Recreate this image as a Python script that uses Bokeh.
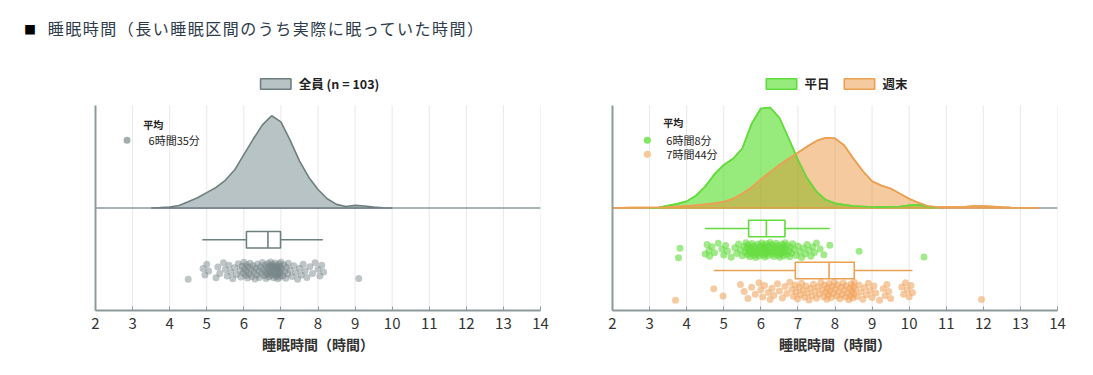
from bokeh.plotting import figure
from bokeh.models import (Range1d, FixedTicker, Legend, LegendItem, Label, Div)
from bokeh.layouts import column, row
from bokeh.embed import file_html
from bokeh.resources import INLINE

# ---------------- data ----------------
title_text = "睡眠時間（長い睡眠区間のうち実際に眠っていた時間）"
x_ticks = [2, 3, 4, 5, 6, 7, 8, 9, 10, 11, 12, 13, 14]
x_label = "睡眠時間（時間）"

# all participants
all_label = "全員 (n = 103)"
all_mean_text = "6時間35分"
all_dens_x = [3.5, 3.75, 4.0, 4.25, 4.5, 4.75, 5.0, 5.25, 5.5, 5.75, 6.0, 6.25, 6.5, 6.75,
              7.0, 7.25, 7.5, 7.75, 8.0, 8.25, 8.5, 8.75, 9.0, 9.25, 9.5, 9.75, 10.0]
all_dens_y = [0, 0.003, 0.01, 0.025, 0.06, 0.10, 0.15, 0.20, 0.27, 0.37, 0.52, 0.67, 0.81, 0.90,
              0.84, 0.66, 0.46, 0.30, 0.18, 0.09, 0.035, 0.015, 0.025, 0.02, 0.008, 0.002, 0]
all_box = [4.88, 6.07, 6.65, 6.99, 8.13]  # whisker low, Q1, median, Q3, whisker high
all_points = [4.50, 4.90, 4.95, 5.00, 5.05, 5.25, 5.30, 5.35, 5.45, 5.50, 5.55, 5.60, 5.65,
              5.70, 5.75, 5.80, 5.85, 5.90, 5.92, 5.95, 5.98, 6.00, 6.02, 6.05, 6.07,
              6.08, 6.10, 6.12, 6.15, 6.17, 6.20, 6.22, 6.25, 6.27, 6.30, 6.32, 6.35, 6.37,
              6.40, 6.42, 6.45, 6.47, 6.50, 6.52, 6.55, 6.57, 6.58, 6.60, 6.62, 6.63, 6.65,
              6.66, 6.68, 6.70, 6.71, 6.72, 6.74, 6.75, 6.77, 6.78, 6.80, 6.81, 6.82, 6.84,
              6.85, 6.87, 6.88, 6.90, 6.91, 6.92, 6.94, 6.95, 6.96, 6.97, 6.98, 6.99, 7.00,
              7.02, 7.05, 7.08, 7.10, 7.13, 7.15, 7.18, 7.20, 7.25, 7.30, 7.35, 7.40, 7.45,
              7.50, 7.55, 7.60, 7.65, 7.70, 7.78, 7.85, 7.92, 8.00, 8.05, 8.10, 8.15, 9.10]

# weekday / weekend
wd_label = "平日"
we_label = "週末"
wd_mean_text = "6時間8分"
we_mean_text = "7時間44分"
wd_dens_x = [3.0, 3.25, 3.5, 3.75, 4.0, 4.25, 4.5, 4.75, 5.0, 5.25, 5.5, 5.75, 6.0, 6.25,
             6.5, 6.75, 7.0, 7.25, 7.5, 7.75, 8.0, 8.25, 8.5, 8.75, 9.0, 9.25, 9.5, 9.75,
             10.0, 10.25, 10.5, 10.75]
wd_dens_y = [0, 0.005, 0.025, 0.04, 0.065, 0.12, 0.21, 0.33, 0.42, 0.48, 0.58, 0.82, 0.97, 0.98,
             0.88, 0.68, 0.47, 0.29, 0.16, 0.08, 0.045, 0.03, 0.02, 0.015, 0.01, 0.008, 0.01, 0.015,
             0.025, 0.03, 0.015, 0]
we_dens_x = [2.0, 2.25, 2.5, 2.75, 3.0, 3.25, 3.5, 3.75, 4.0, 4.25, 4.5, 4.75, 5.0, 5.25, 5.5,
             5.75, 6.0, 6.25, 6.5, 6.75, 7.0, 7.25, 7.5, 7.75, 8.0, 8.25, 8.5, 8.75, 9.0, 9.25,
             9.5, 9.75, 10.0, 10.25, 10.5, 10.75, 11.0, 11.25, 11.5, 11.75, 12.0, 12.25, 12.5,
             12.75, 13.0, 13.25, 13.5]
we_dens_y = [0, 0.002, 0.003, 0.004, 0.005, 0.007, 0.01, 0.015, 0.02, 0.025, 0.035, 0.045, 0.06,
             0.09, 0.14, 0.20, 0.28, 0.35, 0.42, 0.48, 0.54, 0.60, 0.655, 0.685, 0.68, 0.61, 0.48,
             0.36, 0.26, 0.22, 0.19, 0.14, 0.09, 0.05, 0.02, 0.01, 0.008, 0.01, 0.012, 0.018,
             0.02, 0.015, 0.008, 0.004, 0.002, 0.001, 0]
wd_box = [4.49, 5.67, 6.15, 6.65, 7.86]
we_box = [4.73, 6.93, 7.84, 8.52, 10.09]
wd_points = [3.78, 3.82, 4.50, 4.55, 4.60, 4.62, 4.68, 4.75, 4.85, 4.95, 5.00, 5.05, 5.10,
             5.20, 5.30, 5.35, 5.40, 5.45, 5.50, 5.55, 5.58, 5.60, 5.62, 5.64, 5.66,
             5.68, 5.70, 5.72, 5.74, 5.76, 5.78, 5.80, 5.82, 5.84, 5.86, 5.88, 5.90, 5.92,
             5.94, 5.96, 5.98, 6.00, 6.02, 6.04, 6.06, 6.08, 6.10, 6.11, 6.12, 6.14, 6.15,
             6.17, 6.19, 6.21, 6.23, 6.25, 6.27, 6.29, 6.31, 6.33, 6.35, 6.37, 6.39, 6.41,
             6.43, 6.45, 6.47, 6.49, 6.51, 6.53, 6.55, 6.57, 6.59, 6.61, 6.62, 6.64, 6.65,
             6.67, 6.70, 6.72, 6.75, 6.78, 6.80, 6.83, 6.86, 6.90, 6.95, 7.00, 7.05, 7.10,
             7.15, 7.20, 7.25, 7.30, 7.35, 7.40, 7.45, 7.50, 7.60, 7.70, 7.86, 8.65, 10.40]
we_points = [3.70, 4.73, 4.98, 5.45, 5.55, 5.65, 5.75, 5.85, 5.95, 6.00, 6.05, 6.10, 6.20,
             6.25, 6.30, 6.35, 6.45, 6.50, 6.58, 6.65, 6.70, 6.78, 6.84, 6.88, 6.92,
             6.95, 6.99, 7.03, 7.07, 7.10, 7.14, 7.18, 7.22, 7.26, 7.30, 7.34, 7.38, 7.42,
             7.46, 7.50, 7.54, 7.58, 7.62, 7.66, 7.69, 7.72, 7.75, 7.78, 7.80, 7.82, 7.84,
             7.86, 7.89, 7.92, 7.95, 7.98, 8.01, 8.04, 8.07, 8.10, 8.13, 8.16, 8.19, 8.22,
             8.25, 8.28, 8.31, 8.34, 8.37, 8.40, 8.42, 8.44, 8.46, 8.48, 8.50, 8.51, 8.52,
             8.55, 8.60, 8.65, 8.70, 8.75, 8.80, 8.85, 8.90, 8.95, 9.00, 9.05, 9.10, 9.20,
             9.30, 9.35, 9.40, 9.45, 9.50, 9.80, 9.85, 9.90, 9.95, 10.00, 10.05, 10.09, 11.95]

# ---------------- styling ----------------
FONT = "Noto Sans CJK JP"
AXIS_COL = "#8d9a9c"
GRID_COL = "#e8e8e8"
TEXT_COL = "#333333"

GREY_LINE = "#6e7f80"
GREY_FILL = "#b7c3c5"
GREEN = "#52dc24"
GREEN_LINE = "#62dc3c"
ORANGE = "#e88a2a"
ORANGE_LINE = "#eca052"

Y_LO, Y_HI, Y_TOP = -1.0, 1.0, 1.341


def jitter(n, center, amp):
    # deterministic low-discrepancy spread for strip placement
    return [center + ((i * 0.6180339887) % 1.0 - 0.5) * 2 * amp for i in range(n)]


def base_fig(width, left, right):
    p = figure(width=width, height=311, x_range=Range1d(2, 14), y_range=Range1d(Y_LO, Y_TOP),
               output_backend="svg", toolbar_location=None,
               min_border_left=left, min_border_right=right,
               min_border_top=20, min_border_bottom=51)
    p.outline_line_color = None
    p.background_fill_color = "white"
    p.border_fill_color = "white"
    p.xaxis.ticker = FixedTicker(ticks=x_ticks)
    p.xgrid.grid_line_color = None
    p.ygrid.grid_line_color = None
    # vertical grid lines, limited to the data band
    p.segment(x0=x_ticks[1:], y0=[Y_LO] * (len(x_ticks) - 1), x1=x_ticks[1:],
              y1=[Y_HI] * (len(x_ticks) - 1), line_color=GRID_COL, line_width=1)
    p.xaxis.axis_line_color = AXIS_COL
    p.xaxis.axis_line_width = 2
    p.xaxis.major_tick_line_color = AXIS_COL
    p.xaxis.major_tick_in = 4
    p.xaxis.major_tick_out = 0
    p.xaxis.minor_tick_line_color = None
    p.xaxis.major_label_text_font = FONT
    p.xaxis.major_label_text_font_size = "15px"
    p.xaxis.major_label_text_color = TEXT_COL
    p.xaxis.major_label_standoff = 7
    p.xaxis.axis_label = x_label
    p.xaxis.axis_label_text_font = FONT
    p.xaxis.axis_label_text_font_size = "14px"
    p.xaxis.axis_label_text_font_style = "bold"
    p.xaxis.axis_label_text_color = TEXT_COL
    p.xaxis.axis_label_standoff = 2
    p.yaxis.ticker = FixedTicker(ticks=[])
    p.yaxis.bounds = (Y_LO, Y_HI)
    p.yaxis.axis_line_color = AXIS_COL
    p.yaxis.axis_line_width = 2
    p.yaxis.major_tick_line_color = None
    p.yaxis.minor_tick_line_color = None
    p.yaxis.major_label_text_font_size = "0px"
    # baseline of density
    p.line(x=[2, 14], y=[0, 0], line_color=AXIS_COL, line_width=1.5)
    return p


def add_box(p, stats, yc, color, half=0.08):
    lo, q1, med, q3, hi = stats
    p.segment(x0=[lo, q3], y0=[yc, yc], x1=[q1, hi], y1=[yc, yc], line_color=color, line_width=1.6)
    p.quad(left=[q1], right=[q3], bottom=[yc - half], top=[yc + half],
           fill_color="white", fill_alpha=0, line_color=color, line_width=1.6)
    p.segment(x0=[med], y0=[yc - half], x1=[med], y1=[yc + half], line_color=color, line_width=1.6)


def add_legend(p, items):
    leg = Legend(items=items, orientation="horizontal", location="top_center",
                 label_text_font=FONT, label_text_font_size="12.5px", label_text_font_style="bold",
                 label_text_color="#222222", glyph_width=38, glyph_height=13,
                 spacing=10, padding=3, margin=4, border_line_color=None,
                 background_fill_alpha=0, label_standoff=5)
    p.add_layout(leg, "center")


def lbl(p, x, y, text, bold=False, size="11px"):
    p.add_layout(Label(x=x, y=y, text=text, text_font=FONT, text_font_size=size,
                       text_font_style="bold" if bold else "normal", text_color="#222222",
                       text_baseline="middle", text_align="left"))


# ---------------- left panel ----------------
p1 = base_fig(578, 95, 38)
r_all = p1.patch(x=all_dens_x, y=all_dens_y, fill_color=GREY_FILL, fill_alpha=1,
                 line_color=GREY_LINE, line_width=1.6)
add_box(p1, all_box, -0.31, GREY_LINE)
p1.scatter(x=all_points, y=jitter(len(all_points), -0.61, 0.085), size=7,
           fill_color=GREY_LINE, fill_alpha=0.45, line_color=None)
add_legend(p1, [LegendItem(label=all_label, renderers=[r_all])])
lbl(p1, 3.29, 0.815, "平均", bold=True, size="10px")
p1.scatter(x=[2.85], y=[0.66], size=7, fill_color="#a3adad", line_color=None)
lbl(p1, 3.43, 0.66, all_mean_text)

# ---------------- right panel ----------------
p2 = base_fig(499, 34, 20)
r_wd = p2.patch(x=wd_dens_x, y=wd_dens_y, fill_color=GREEN, fill_alpha=0.6,
                line_color=GREEN_LINE, line_width=1.6)
r_we = p2.patch(x=we_dens_x, y=we_dens_y, fill_color=ORANGE, fill_alpha=0.45,
                line_color=ORANGE_LINE, line_width=1.6)
p2.line(x=wd_dens_x, y=wd_dens_y, line_color=GREEN_LINE, line_width=1.6)
p2.line(x=we_dens_x, y=we_dens_y, line_color=ORANGE_LINE, line_width=1.6)
add_box(p2, wd_box, -0.2, GREEN_LINE)
p2.scatter(x=wd_points, y=jitter(len(wd_points), -0.41, 0.075), size=7,
           fill_color=GREEN_LINE, fill_alpha=0.6, line_color=None)
add_box(p2, we_box, -0.61, ORANGE_LINE)
p2.scatter(x=we_points, y=jitter(len(we_points), -0.81, 0.09), size=7,
           fill_color="#f0a055", fill_alpha=0.55, line_color=None)
add_legend(p2, [LegendItem(label=wd_label, renderers=[r_wd]),
                LegendItem(label=we_label, renderers=[r_we])])
lbl(p2, 3.37, 0.834, "平均", bold=True, size="10px")
p2.scatter(x=[2.94], y=[0.66], size=7, fill_color="#7ee860", line_color=None)
p2.scatter(x=[2.94], y=[0.525], size=7, fill_color="#f7c797", line_color=None)
lbl(p2, 3.45, 0.66, wd_mean_text)
lbl(p2, 3.45, 0.525, we_mean_text)

# ---------------- title ----------------
div = Div(text=("<div style='font-family:\"Noto Sans CJK JP\";font-size:16px;letter-spacing:1.5px;"
                "color:#2c3a4a;padding:17px 0 0 24px;white-space:nowrap;'>"
                "<span style='color:#000;font-size:12px;'>■</span>&nbsp;&nbsp;" + title_text + "</div>"),
          width=1077, height=50, margin=(0, 0, 0, 0))

layout = column(div, row(p1, p2, spacing=0), spacing=0)
open("out.html", "w").write(file_html(layout, INLINE))
